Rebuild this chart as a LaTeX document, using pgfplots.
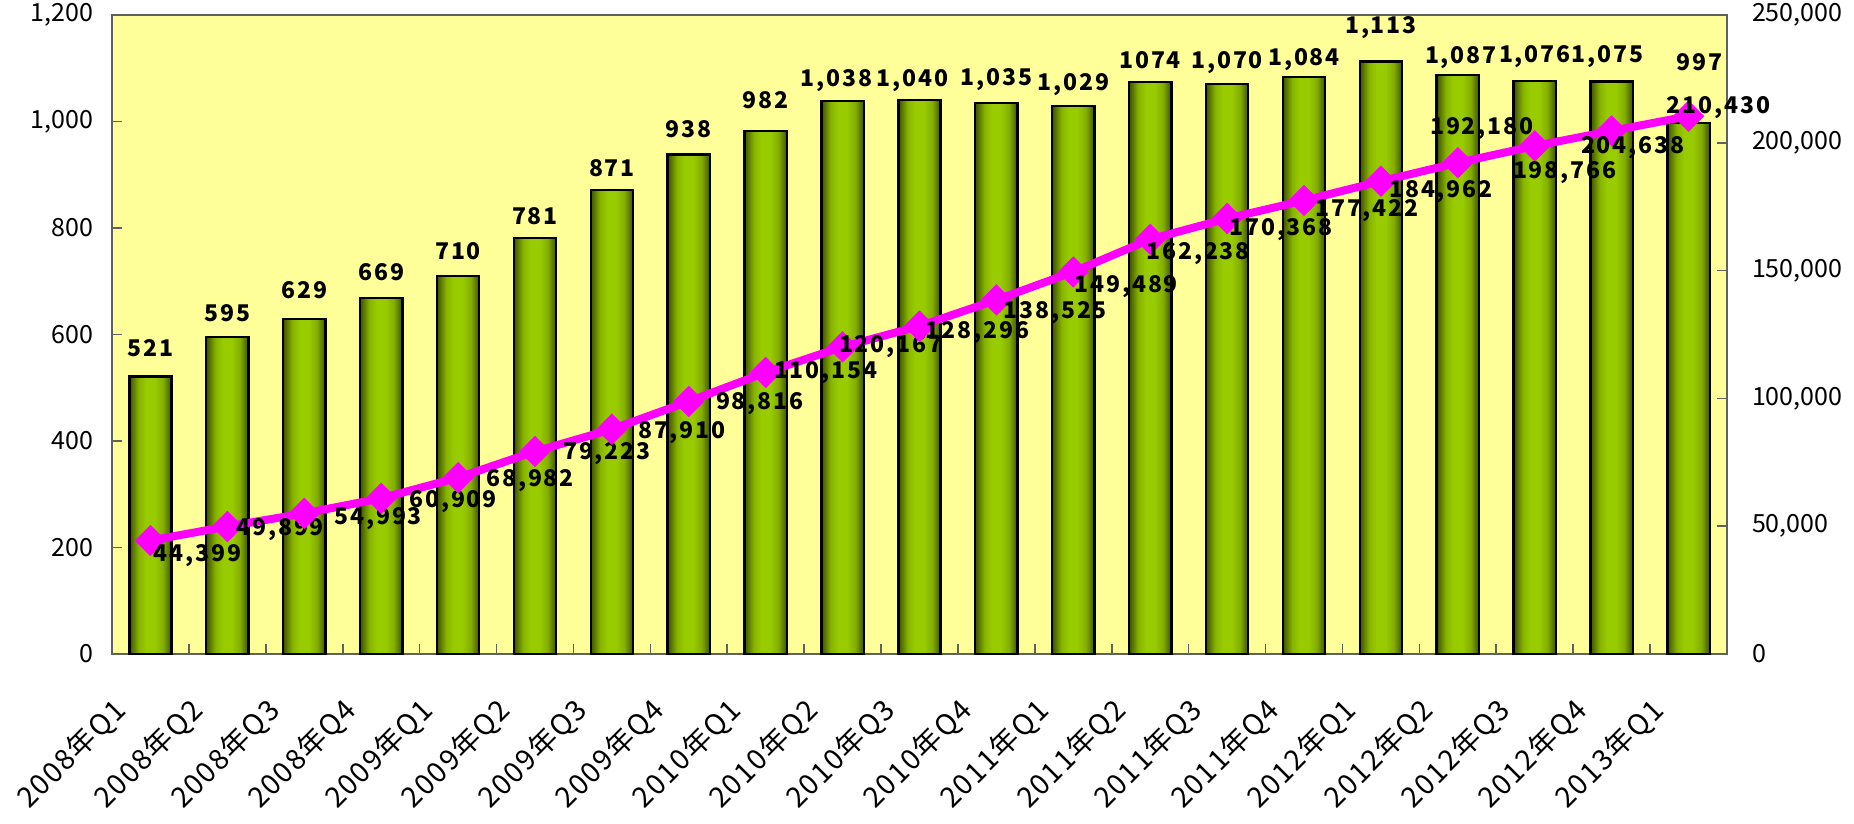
\documentclass[border=0pt]{standalone}
\usepackage{pgfplots}
\pgfplotsset{compat=1.18}
\usepackage{pgfplotstable}
\usepackage{fontspec}
\setmainfont{Noto Sans CJK JP}
\newfontfamily\lblfont[LetterSpace=8]{Noto Sans CJK JP}
\newfontfamily\tickfont[LetterSpace=6]{Noto Sans CJK JP}

\definecolor{plotbg}{HTML}{FFFF99}
\definecolor{barmid}{HTML}{99CC00}
\definecolor{baredge}{HTML}{3F5200}
\definecolor{linemag}{HTML}{FF00FF}
\definecolor{axisgray}{HTML}{606060}

\pgfdeclarehorizontalshading{barshade}{100bp}{color(0bp)=(baredge); color(25bp)=(baredge); color(36bp)=(barmid!80!baredge); color(45bp)=(barmid); color(55bp)=(barmid); color(65bp)=(barmid!75!baredge); color(75bp)=(baredge); color(100bp)=(baredge)}

% x  bar  label  dx dy (pt)  line  label  dx dy (pt)
\pgfplotstableread{
x bar blbl bdx bdy line llbl ldx ldy
0 521 521 0 14 44399 44,399 23.5 -7.5
1 595 595 0 12 49899 49,899 26.5 -1.5
2 629 629 0 14.5 54993 54,993 37 -2.5
3 669 669 0 13 60909 60,909 36 -1.5
4 710 710 0 12.5 68982 68,982 36 -1.5
5 781 781 0 11 79223 79,223 36 -1
6 871 871 0 11 87910 87,910 35 -1.5
7 938 938 0 12.5 98816 98,816 35.5 -1
8 982 982 0 15.5 110154 110,154 30 0
9 1038 1,038 -3 10.5 120167 120,167 24 0
10 1040 1,040 -3.5 10 128296 128,296 29 -3.5
11 1035 1,035 0 11.5 138525 138,525 29.5 -6.5
12 1029 1,029 0 10.5 149489 149,489 26.5 -7.5
13 1074 1074 0 11 162238 162,238 24 -7
14 1070 1,070 0 11 170368 170,368 27 -5.5
15 1084 1,084 0 8.5 177422 177,422 31.5 -5
16 1113 1,113 0 17 184962 184,962 30 -5
17 1087 1,087 1.5 9 192180 192,180 12 17
18 1076 1,076 0 12 198766 198,766 15 -13.5
19 1075 1,075 -2 12.5 204638 204,638 10.5 -8.5
20 997 997 5.5 30.5 210430 210,430 15 4.5
}\datatable

\begin{document}
\begin{tikzpicture}
\path[use as bounding box] (-56pt,-85pt) rectangle (871pt,327pt);
\begin{axis}[
    at={(0,0)}, anchor=south west, scale only axis,
    width=807.5pt, height=319.5pt,
    xmin=-0.5, xmax=20.5, ymin=0, ymax=1200,
    ytick={0,200,...,1200},
    xtick={0,...,20},
    xticklabels={2008年Q1,2008年Q2,2008年Q3,2008年Q4,2009年Q1,2009年Q2,2009年Q3,2009年Q4,2010年Q1,2010年Q2,2010年Q3,2010年Q4,2011年Q1,2011年Q2,2011年Q3,2011年Q4,2012年Q1,2012年Q2,2012年Q3,2012年Q4,2013年Q1},
    minor xtick={0.5,1.5,...,19.5},
    ytick pos=left, xtick pos=bottom,
    tick align=inside,
    major tick length=5pt, minor tick length=5pt,
    major x tick style={draw=none},
    tick style={axisgray, line width=0.8pt},
    axis background/.style={fill=plotbg},
    axis line style={draw=axisgray, line width=1pt},
    x tick label style={font=\tickfont\fontsize{14.2}{16}\selectfont, xshift=-20pt, yshift=-15.5pt, rotate=45, anchor=north east},
    y tick label style={font=\fontsize{12.5}{14}\selectfont, xshift=-6pt},
    /pgf/number format/fixed,
    /pgf/number format/1000 sep={,},
    /pgf/number format/assume math mode=true,
    scaled y ticks=false,
    clip=false,
  ]
  % one plot for each bar, so that each bar gets its own shading
  \pgfplotsinvokeforeach{0,...,20}{
    \addplot[ybar, bar shift=0pt, bar width=0.55, draw=black, line width=1.2pt,
        shading=barshade, restrict expr to domain={\coordindex}{#1:#1}]
      table[x=x, y=bar] {\datatable};
  }
  \addplot[draw=none, mark=none,
      point meta=explicit symbolic,
      nodes near coords={\pgfplotspointmeta},
      visualization depends on={\thisrow{bdx} \as \bdx},
      visualization depends on={\thisrow{bdy} \as \bdy},
      nodes near coords style={font=\lblfont\bfseries\fontsize{11.5}{13}\selectfont,
        anchor=center, xshift=\bdx pt, yshift=\bdy pt, text=black}]
    table[x=x, y=bar, meta=blbl] {\datatable};
\end{axis}
\begin{axis}[
    at={(0,0)}, anchor=south west, scale only axis,
    width=807.5pt, height=319.5pt,
    xmin=-0.5, xmax=20.5, ymin=0, ymax=250000,
    axis x line=none, axis y line*=right,
    ytick={0,50000,...,250000},
    tick align=inside,
    major tick length=5pt,
    tick style={axisgray, line width=0.8pt},
    axis line style={draw=axisgray, line width=1pt},
    y tick label style={font=\fontsize{12.5}{14}\selectfont, anchor=west, xshift=9pt},
    /pgf/number format/fixed,
    /pgf/number format/1000 sep={,},
    /pgf/number format/assume math mode=true,
    scaled y ticks=false,
    clip=false,
  ]
  \addplot[linemag, line width=4pt, mark=square*, mark size=5.3pt,
      mark options={rotate=45, solid, fill=linemag, draw=linemag, line width=0.5pt},
      point meta=explicit symbolic,
      nodes near coords={\pgfplotspointmeta},
      visualization depends on={\thisrow{ldx} \as \ldx},
      visualization depends on={\thisrow{ldy} \as \ldy},
      nodes near coords style={font=\lblfont\bfseries\fontsize{11.5}{13}\selectfont,
        anchor=center, xshift=\ldx pt, yshift=\ldy pt, text=black}]
    table[x=x, y=line, meta=llbl] {\datatable};
\end{axis}
\end{tikzpicture}
\end{document}
